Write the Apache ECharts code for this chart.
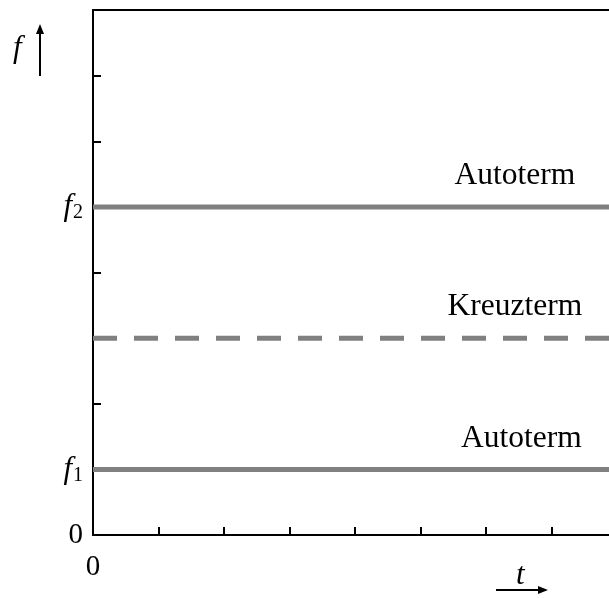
<!DOCTYPE html>
<html>
<head>
<meta charset="utf-8">
<script src="https://cdn.jsdelivr.net/npm/echarts@6/dist/echarts.min.js"></script>
<style>
  html, body { margin: 0; padding: 0; background: #fff; }
  #chart { width: 609px; height: 598px; }
</style>
</head>
<body>
<div id="chart"></div>
<script>
// Time span and frequency levels of the spectrogram terms
const timeRange = [0, 8];
const freqRange = [0, 8];
const autoLow = 1;     // f1
const cross = 3;       // cross term midway
const autoHigh = 5;    // f2
const yTickLabels = { 0: '{n|0}', 1: '{i|f}{s|1}', 5: '{i|f}{s|2}' };
const xTickLabels = { 0: '0' };
const termNames = ['Autoterm', 'Kreuzterm', 'Autoterm'];
const labelPos = [6.44, 6.44, 6.54];

const serif = 'Liberation Serif';
const grey = '#808080';

const chart = echarts.init(document.getElementById('chart'));

function term(name, level, dashed, labelX) {
  return {
    type: 'line',
    data: [[timeRange[0], level], [timeRange[1], level]],
    symbol: 'none',
    silent: true,
    lineStyle: { color: grey, width: 5, type: dashed ? [24, 17] : 'solid', cap: 'butt' },
    markPoint: {
      symbol: 'circle', symbolSize: 0,
      data: [{ coord: [labelX, level] }],
      label: { show: true, formatter: name, position: 'top', distance: 15,
               fontFamily: serif, fontSize: 31.5, color: '#000' }
    },
    z: 1
  };
}

const rich = {
  n: { fontFamily: serif, fontSize: 29, color: '#000' },
  i: { fontFamily: serif, fontStyle: 'italic', fontSize: 31, color: '#000' },
  s: { fontFamily: serif, fontSize: 20, color: '#000', padding: [12, 0, 0, 1] }
};

chart.setOption({
  animation: false,
  grid: { left: 93, top: 10, width: 524, height: 525, outerBoundsMode: 'none' },
  xAxis: [{
    type: 'value', min: timeRange[0], max: timeRange[1], interval: 1,
    axisLine: { lineStyle: { color: '#000', width: 2 } },
    axisTick: { inside: true, length: 8, lineStyle: { color: '#000', width: 2 } },
    splitLine: { show: false },
    axisLabel: { formatter: v => xTickLabels[v] || '', fontFamily: serif, fontSize: 29,
                 color: '#000', margin: 18 }
  }, {
    type: 'value', position: 'top', min: timeRange[0], max: timeRange[1],
    axisLine: { show: true, lineStyle: { color: '#000', width: 2 } },
    axisTick: { show: false }, axisLabel: { show: false }, splitLine: { show: false }
  }],
  yAxis: {
    type: 'value', min: freqRange[0], max: freqRange[1], interval: 1,
    axisLine: { show: true, lineStyle: { color: '#000', width: 2 } },
    axisTick: { show: true, inside: true, length: 8, lineStyle: { color: '#000', width: 2 } },
    splitLine: { show: false },
    axisLabel: { formatter: v => yTickLabels[v] || '', color: '#000', margin: 10, rich: rich }
  },
  series: [
    term(termNames[0], autoHigh, false, labelPos[0]),
    term(termNames[1], cross, true, labelPos[1]),
    term(termNames[2], autoLow, false, labelPos[2])
  ],
  graphic: [
    { type: 'text', left: 13, top: 33,
      style: { text: 'f', font: 'italic 31px "Liberation Serif"', fill: '#000' } },
    { type: 'line', shape: { x1: 40, y1: 76, x2: 40, y2: 32 },
      style: { stroke: '#000', lineWidth: 2 } },
    { type: 'polygon', shape: { points: [[40, 24], [36, 34], [44, 34]] },
      style: { fill: '#000' } },
    { type: 'text', left: 516, top: 560,
      style: { text: 't', font: 'italic 31px "Liberation Serif"', fill: '#000' } },
    { type: 'line', shape: { x1: 496, y1: 590, x2: 540, y2: 590 },
      style: { stroke: '#000', lineWidth: 2 } },
    { type: 'polygon', shape: { points: [[548, 590], [538, 586], [538, 594]] },
      style: { fill: '#000' } }
  ]
});
</script>
</body>
</html>
